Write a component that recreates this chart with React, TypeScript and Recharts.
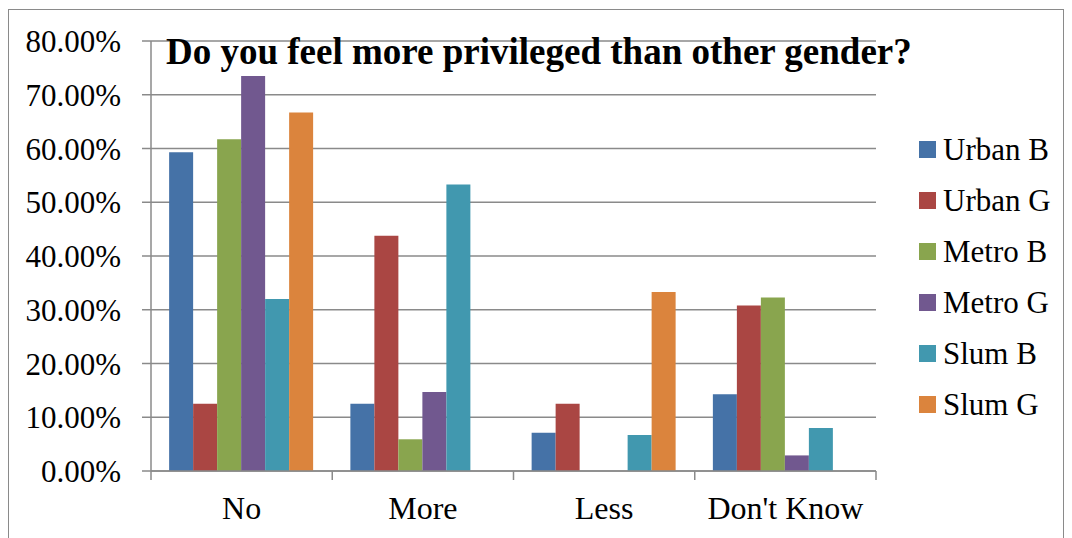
import React from 'react';
import { BarChart, Bar, XAxis, YAxis, CartesianGrid } from 'recharts';

const CATEGORIES = ['No', 'More', 'Less', "Don't Know"];

const URBAN_B = [59.3, 12.5, 7.1, 14.3];
const URBAN_G = [12.5, 43.75, 12.5, 30.8];
const METRO_B = [61.7, 5.9, 0, 32.3];
const METRO_G = [73.5, 14.7, 0, 2.9];
const SLUM_B = [32.0, 53.3, 6.7, 8.0];
const SLUM_G = [66.7, 0, 33.3, 0];

const Y_TICKS = [0, 10, 20, 30, 40, 50, 60, 70, 80];

const SERIES = [
  { key: 'urbanB', name: 'Urban B', values: URBAN_B, color: '#4572A7' },
  { key: 'urbanG', name: 'Urban G', values: URBAN_G, color: '#AA4643' },
  { key: 'metroB', name: 'Metro B', values: METRO_B, color: '#89A54E' },
  { key: 'metroG', name: 'Metro G', values: METRO_G, color: '#71588F' },
  { key: 'slumB', name: 'Slum B', values: SLUM_B, color: '#4198AF' },
  { key: 'slumG', name: 'Slum G', values: SLUM_G, color: '#DB843D' },
];

const data = CATEGORIES.map((cat, i) => {
  const row: Record<string, string | number> = { cat };
  SERIES.forEach((s) => { row[s.key] = s.values[i]; });
  return row;
});

const FONT = '"Liberation Serif", "Times New Roman", serif';
const GRID = '#8a8a8a';

// category label in the middle, boundary tick marks at the band edges
const CatTick = (props: any) => {
  const { x, y, payload, index, visibleTicksCount } = props;
  const half = payload?.offset ?? 90.6;
  const last = index === (visibleTicksCount ?? CATEGORIES.length) - 1;
  return (
    <g>
      <line x1={x - half} x2={x - half} y1={y} y2={y + 9} stroke={GRID} strokeWidth={1.5} />
      {last && <line x1={x + half} x2={x + half} y1={y} y2={y + 9} stroke={GRID} strokeWidth={1.5} />}
      <text x={x} y={y + 48} textAnchor="middle" fontFamily={FONT} fontSize={32} fill="#000">
        {payload.value}
      </text>
    </g>
  );
};

const App: React.FC = () => {
  return (
    <div style={{ position: 'absolute', left: 0, top: 0, width: 1072, height: 538, background: '#fff', fontFamily: FONT }}>
      <div style={{ position: 'absolute', left: 8, top: 9, width: 1056, height: 540, border: '1.5px solid #8a8a8a', boxSizing: 'border-box' }} />
      <BarChart
        width={1072}
        height={538}
        data={data}
        margin={{ top: 41, right: 196, bottom: 0, left: 0 }}
        barCategoryGap="10%"
        barGap={0}
      >
        <CartesianGrid vertical={false} stroke={GRID} strokeWidth={1.5} />
        <XAxis
          dataKey="cat"
          height={67}
          tickSize={0}
          tickMargin={0}
          tickLine={false}
          axisLine={{ stroke: GRID, strokeWidth: 1.5 }}
          tick={<CatTick />}
          interval={0}
        />
        <YAxis
          width={151}
          domain={[0, 80]}
          ticks={Y_TICKS}
          interval={0}
          tickSize={9}
          tickMargin={21}
          tickLine={{ stroke: GRID, strokeWidth: 1.5 }}
          axisLine={{ stroke: GRID, strokeWidth: 1.5 }}
          tickFormatter={(v: number) => `${v.toFixed(2)}%`}
          tick={{ fontFamily: FONT, fontSize: 31, fill: '#000' }}
        />
        {SERIES.map((s) => (
          <Bar key={s.key} dataKey={s.key} name={s.name} fill={s.color} isAnimationActive={false} />
        ))}
      </BarChart>
      <div style={{ position: 'absolute', left: 166, top: 33, fontSize: 37, lineHeight: '37px', fontWeight: 'bold', color: '#000', whiteSpace: 'nowrap' }}>
        Do you feel more privileged than other gender?
      </div>
      <div style={{ position: 'absolute', left: 919, top: 124 }}>
        {SERIES.map((s) => (
          <div key={s.key} style={{ display: 'flex', alignItems: 'center', height: 51, fontSize: 31, color: '#000', whiteSpace: 'nowrap' }}>
            <span style={{ display: 'inline-block', width: 17, height: 17, background: s.color, marginRight: 7 }} />
            {s.name}
          </div>
        ))}
      </div>
    </div>
  );
};

export default App;
